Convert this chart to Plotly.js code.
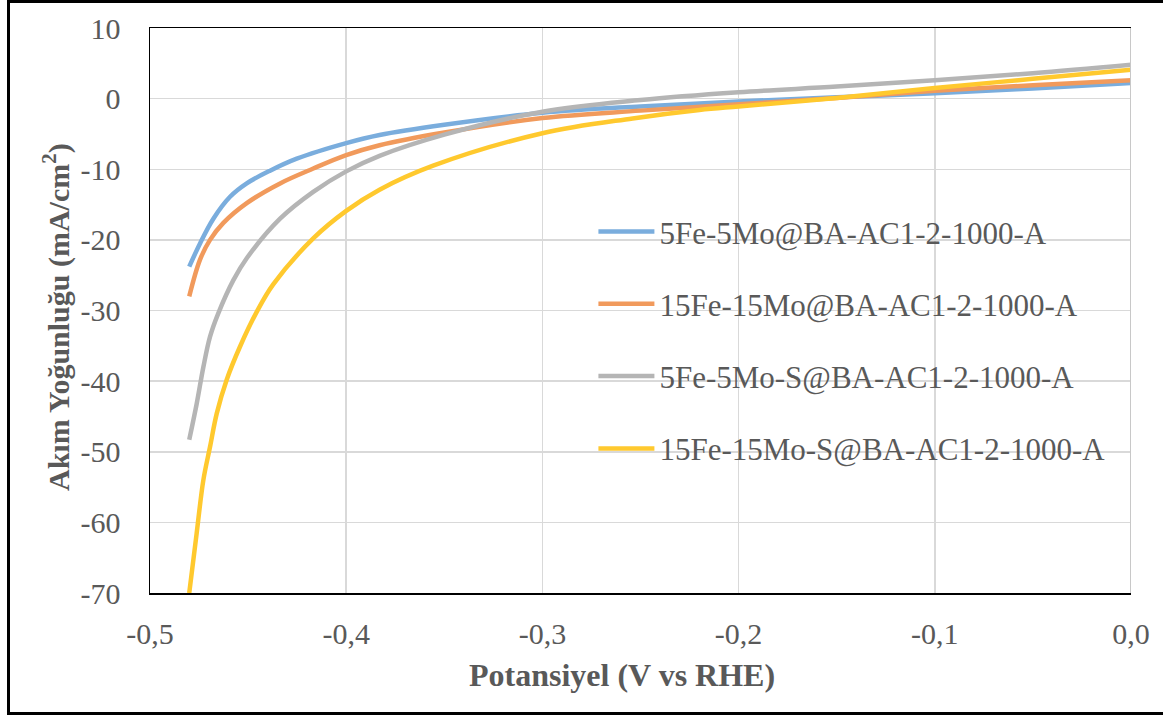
<!DOCTYPE html>
<html>
<head>
<meta charset="utf-8">
<script src="https://cdn.plot.ly/plotly-3.0.1.min.js"></script>
<style>
  html, body { margin: 0; padding: 0; background: #fff; }
  #wrap { position: relative; width: 1163px; height: 717px; overflow: hidden; }
  #chart { width: 1163px; height: 717px; }
  #frame { position: absolute; left: 7px; top: 0px; width: 1160px; height: 715px;
           border: 3px solid #000; box-sizing: border-box; pointer-events: none; }
</style>
</head>
<body>
<div id="wrap">
  <div id="chart"></div>
  <div id="frame"></div>
</div>
<script>
// ---- data ----
const seriesNames = [
  "5Fe-5Mo@BA-AC1-2-1000-A",
  "15Fe-15Mo@BA-AC1-2-1000-A",
  "5Fe-5Mo-S@BA-AC1-2-1000-A",
  "15Fe-15Mo-S@BA-AC1-2-1000-A"
];

const potA = [-0.48, -0.4745, -0.4677, -0.4592, -0.4507, -0.4388, -0.4252, -0.40, -0.383, -0.35, -0.30, -0.25, -0.20, -0.15, -0.10, -0.05, 0.0];
const curA = [-23.8, -20.5, -17.0, -13.9, -12.0, -10.2, -8.5, -6.3, -5.15, -3.7, -2.0, -1.1, -0.4, 0.2, 0.75, 1.45, 2.2];

const potB = [-0.48, -0.4745, -0.4694, -0.4626, -0.4507, -0.4337, -0.4168, -0.40, -0.383, -0.35, -0.30, -0.25, -0.20, -0.15, -0.10, -0.05, 0.0];
const curB = [-28.0, -22.8, -20.0, -17.6, -14.8, -12.0, -9.9, -8.0, -6.6, -4.8, -2.75, -1.7, -0.8, 0.1, 1.1, 1.9, 2.6];

const potC = [-0.48, -0.4762, -0.4728, -0.4694, -0.4652, -0.4575, -0.4507, -0.4337, -0.4168, -0.40, -0.383, -0.35, -0.30, -0.25, -0.20, -0.15, -0.10, -0.05, 0.0];
const curC = [-48.3, -43.2, -38.0, -33.7, -30.4, -25.7, -22.6, -17.0, -13.2, -10.3, -8.1, -5.1, -1.85, -0.2, 0.9, 1.7, 2.6, 3.6, 4.8];

const potD = [-0.48, -0.4762, -0.4728, -0.4694, -0.466, -0.4609, -0.4541, -0.4456, -0.4372, -0.4168, -0.40, -0.383, -0.3557, -0.30, -0.254, -0.22, -0.20, -0.15, -0.10, -0.05, 0.0];
const curD = [-70.0, -61.5, -54.0, -49.3, -44.6, -39.8, -35.1, -30.2, -26.3, -19.8, -15.9, -12.9, -9.5, -4.9, -2.8, -1.6, -1.1, 0.1, 1.5, 2.8, 4.1];

const xTickVals = [-0.5, -0.4, -0.3, -0.2, -0.1, 0.0];
const xTickText = ["-0,5", "-0,4", "-0,3", "-0,2", "-0,1", "0,0"];
const yTickVals = [10, 0, -10, -20, -30, -40, -50, -60, -70];
const yTickText = ["10", "0", "-10", "-20", "-30", "-40", "-50", "-60", "-70"];

const colors = ["#7aaddd", "#f19a5c", "#b5b5b5", "#ffc92e"];
const FONT = '"Liberation Serif", "Times New Roman", serif';
const TXT = "#595959";

const xs = [potA, potB, potC, potD];
const ys = [curA, curB, curC, curD];

const traces = seriesNames.map((n, i) => ({
  type: "scatter",
  mode: "lines",
  name: n,
  legendgroup: "g" + i,
  x: xs[i],
  y: ys[i],
  line: { color: colors[i], width: 4.5, shape: "spline", smoothing: 1.0 },
  hoverinfo: "x+y+name"
}));

const layout = {
  width: 1163,
  height: 717,
  paper_bgcolor: "#ffffff",
  plot_bgcolor: "#ffffff",
  margin: { l: 150, r: 32, t: 28, b: 124 },
  font: { family: FONT, color: TXT, size: 30 },
  showlegend: true,
  legend: {
    x: 0.452, y: 0.687, xanchor: "left", yanchor: "top",
    bgcolor: "rgba(0,0,0,0)",
    font: { family: FONT, size: 31, color: TXT },
    traceorder: "grouped",
    tracegroupgap: 29,
    itemwidth: 56
  },
  xaxis: {
    range: [-0.5, 0.0],
    tickvals: xTickVals,
    ticktext: xTickText,
    showgrid: true,
    gridcolor: "#d9d9d9",
    gridwidth: 1.5,
    zeroline: false,
    showline: true,
    linecolor: "#000000",
    linewidth: 1.5,
    mirror: true,
    ticks: "",
    ticklabelstandoff: 13,
    tickfont: { family: FONT, size: 30, color: TXT }
  },
  yaxis: {
    range: [-70, 10],
    tickvals: yTickVals,
    ticktext: yTickText,
    showgrid: true,
    gridcolor: "#d9d9d9",
    gridwidth: 1.5,
    zeroline: false,
    showline: true,
    linecolor: "#000000",
    linewidth: 1.5,
    ticks: "",
    ticklabelstandoff: 22,
    tickfont: { family: FONT, size: 30, color: TXT }
  },
  shapes: [
    { type: "line", xref: "x", yref: "paper", x0: 0, x1: 0, y0: 0, y1: 1,
      line: { color: "#c8c8c8", width: 2 } }
  ],
  annotations: [
    { text: "<b>Potansiyel (V vs RHE)</b>", xref: "paper", yref: "paper",
      x: 0.481, y: -0.146, xanchor: "center", yanchor: "middle", showarrow: false,
      font: { family: FONT, size: 32, color: TXT } },
    { text: "<b>Akım Yoğunluğu (mA/cm<sup>2</sup>)</b>", xref: "paper", yref: "paper",
      x: -0.0948, y: 0.4885, xanchor: "center", yanchor: "middle", showarrow: false,
      textangle: -90,
      font: { family: FONT, size: 30, color: TXT } }
  ]
};

Plotly.newPlot("chart", traces, layout, { displayModeBar: false, staticPlot: true });
</script>
</body>
</html>
